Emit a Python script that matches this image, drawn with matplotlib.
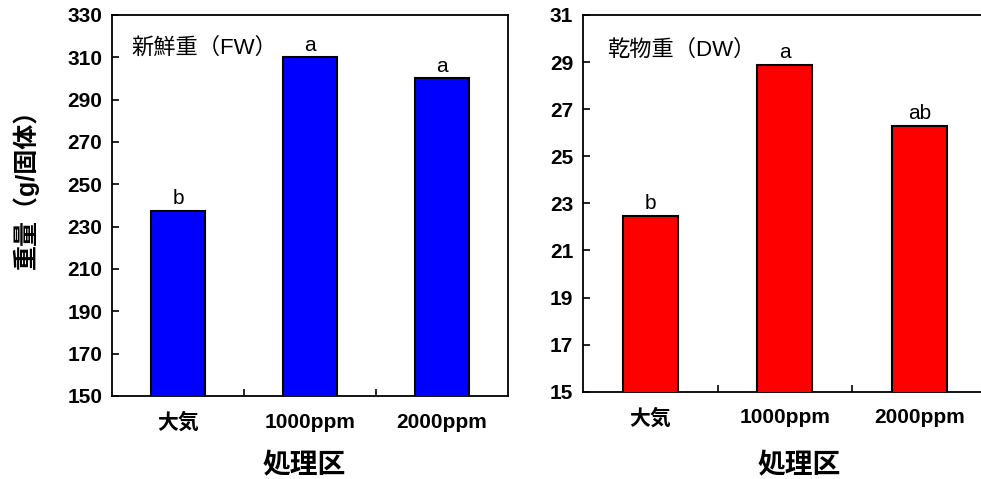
import matplotlib
matplotlib.use("Agg")
import matplotlib.pyplot as plt
import numpy as np
from matplotlib.ticker import FixedLocator

plt.rcParams["font.family"] = ["Liberation Sans", "Noto Sans CJK JP", "DejaVu Sans"]

# データ
treatments = ["大気", "1000ppm", "2000ppm"]
fresh_weight = [237.3, 310.0, 300.0]
dry_weight = [22.46, 28.88, 26.28]
fw_letters = ["b", "a", "a"]
dw_letters = ["b", "a", "ab"]

FW_COLOR = "#0000ff"
DW_COLOR = "#ff0000"

fig = plt.figure(figsize=(9.81, 4.79), dpi=100)
ax1 = fig.add_axes([0.1142, 0.1733, 0.4037, 0.7954])
ax2 = fig.add_axes([0.5943, 0.1823, 0.4113, 0.7864])


def draw_panel(ax, values, letters, color, ylim, ystep, title, title_xy,
               xlabel_xy):
    x = range(len(treatments))
    ax.bar(x, values, width=0.41, color=color, edgecolor="black",
           linewidth=1.5, zorder=3)
    for xi, v, lab in zip(x, values, letters):
        ax.annotate(lab, (xi, v), xytext=(0, 2), textcoords="offset points",
                    ha="center", va="bottom", fontsize=15)
    ax.set_xlim(-0.5, 2.5)
    ax.set_ylim(*ylim)
    ax.set_yticks(np.arange(ylim[0], ylim[1] + ystep / 2, ystep))
    ax.set_xticks(list(x))
    ax.set_xticklabels(treatments, fontsize=15, fontweight="bold")
    ax.xaxis.set_minor_locator(FixedLocator([0.5, 1.5]))
    ax.tick_params(axis="x", which="major", length=0, pad=12)
    ax.tick_params(axis="x", which="minor", direction="in", length=5, width=1.2)
    ax.tick_params(axis="y", direction="in", length=5, width=1.2, pad=7,
                   labelsize=15)
    for t in ax.get_yticklabels():
        t.set_fontweight("bold")
    for s in ax.spines.values():
        s.set_linewidth(1.3)
    ax.text(title_xy[0], title_xy[1], title, transform=ax.transAxes,
            ha="left", va="center", fontsize=16)
    ax.set_xlabel("処理区", fontsize=20, fontweight="bold")
    ax.xaxis.label.set_va("center")
    ax.xaxis.set_label_coords(*xlabel_xy)


draw_panel(ax1, fresh_weight, fw_letters, FW_COLOR, (150, 330), 20,
           "新鮮重（FW）", (0.05, 0.913), (0.485, -0.184))
draw_panel(ax2, dry_weight, dw_letters, DW_COLOR, (15, 31), 2,
           "乾物重（DW）", (0.06, 0.907), (0.535, -0.197))

ax1.set_ylabel("重量（g/固体）", fontsize=18, fontweight="bold")
ax1.yaxis.label.set_va("center")
ax1.yaxis.set_label_coords(-0.217, 0.56)

fig.savefig("out.png", dpi=100, facecolor="white")
